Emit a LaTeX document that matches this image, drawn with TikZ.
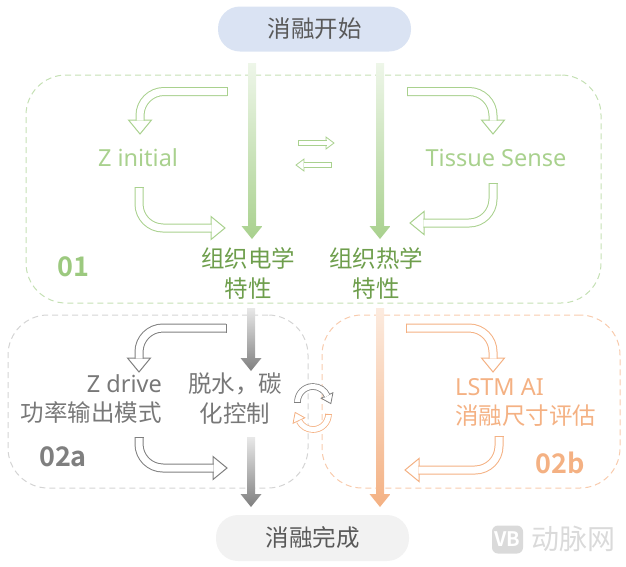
\documentclass[tikz,border=0pt]{standalone}
\usepackage{fontspec}
\setmainfont{Noto Sans}
\newfontfamily\cjk{Noto Sans CJK SC}
\newfontfamily\lblfont{Noto Sans CJK SC Bold}
\usetikzlibrary{calc}
\definecolor{grnL}{HTML}{A9D18E}
\definecolor{grnN}{HTML}{9CC97F}
\definecolor{grnD}{HTML}{6E9E4C}
\definecolor{grnDash}{HTML}{C5E0B4}
\definecolor{grnTop}{HTML}{EEF6E9}
\definecolor{gryA}{HTML}{7F7F7F}
\definecolor{gryT}{HTML}{787878}
\definecolor{gryDash}{HTML}{D4D4D4}
\definecolor{gryTop}{HTML}{E8E8E8}
\definecolor{orA}{HTML}{F4B183}
\definecolor{orDash}{HTML}{F8CBAD}
\definecolor{orTop}{HTML}{FCEBDF}
\definecolor{pillBlue}{HTML}{DAE3F3}
\definecolor{pillGray}{HTML}{F2F2F2}
\definecolor{pillText}{HTML}{595959}
\definecolor{wmk}{HTML}{DADADA}
\newcommand{\gradarrow}[4]{%
  \shade[top color=#3, bottom color=#4] let \p1=(#1), \p2=(#2) in
  (\x1-4pt,\y1) -- (\x1+4pt,\y1) -- (\x1+4pt,\y2+13pt) -- (\x1+10.5pt,\y2+13pt)
  -- (\x1,\y2) -- (\x1-10.5pt,\y2+13pt) -- (\x1-4pt,\y2+13pt) -- cycle;}
\newcommand{\hollowarr}[5]{%
  \pic[draw=#1, rotate=#5] at (#4) {bighead};
  \draw[#1, shaft] (#2) -- (#3) -- (#4);
  \draw[#1, line width=1pt] ($(#2)!4.5pt!90:(#3)$) -- ($(#2)!4.5pt!-90:(#3)$);}
\newcommand{\smallarr}[4]{%
  \pic[draw=#1, rotate=#4] at (#3) {smallhead};
  \draw[#1, line width=0.8pt, double=white, double distance=4.2pt, shorten >=-0.5pt] (#2) -- (#3);
  \draw[#1, line width=0.8pt] ($(#2)!2.9pt!90:(#3)$) -- ($(#2)!2.9pt!-90:(#3)$);}
\begin{document}
\begin{tikzpicture}[x=1pt,y=-1pt,
  region/.style={draw, line width=1pt, dash pattern=on 6pt off 4pt, rounded corners=40pt, inner sep=0pt},
  pill/.style={rounded corners=22pt, minimum width=193pt, inner sep=0pt, text=pillText, font=\cjk\fontsize{23.5}{28}\selectfont},
  txt/.style={inner sep=0pt, font=\fontsize{23.5}{29}\selectfont},
  ctxt/.style={inner sep=0pt, font=\cjk\fontsize{23.5}{30}\selectfont},
  lbl/.style={inner sep=0pt, font=\lblfont\fontsize{27}{27}\selectfont},
  shaft/.style={line width=1pt, double=white, double distance=7pt, rounded corners=24pt, shorten >=-0.6pt},
  bighead/.pic={\path[pic actions, line width=1pt, fill=white, line join=miter] (0,-11.5) -- (0,11.5) -- (14,0) -- cycle;},
  smallhead/.pic={\path[pic actions, line width=0.8pt, fill=white, line join=miter] (0,-6) -- (0,6) -- (8,0) -- cycle;},
  archead/.pic={\path[pic actions, line width=0.8pt, fill=white, line join=miter] (0,-6.5) -- (0,6.5) -- (9,0) -- cycle;},
]
\useasboundingbox (0,0) rectangle (626,566);

% regions
\node[region, draw=grnDash, minimum width=575pt, minimum height=228pt] (r01) at (313.5,189) {};
\node[region, draw=gryDash, minimum width=300pt, minimum height=173pt] (r2a) at (158,401.5) {};
\node[region, draw=orDash, minimum width=298pt, minimum height=173pt] (r2b) at (471,401.5) {};

% pills
\node[pill, fill=pillBlue, minimum height=45pt] (start) at (314.5,29) {消融开始};
\node[pill, fill=pillGray, minimum height=46pt] (finish) at (312.5,538) {消融完成};

% gradient arrows
\coordinate (gA0) at (252,63);  \coordinate (gA1) at (252,239);
\coordinate (gB0) at (380,63);  \coordinate (gB1) at (380,239);
\coordinate (kA0) at (251,308); \coordinate (kA1) at (251,371);
\coordinate (kB0) at (251,437); \coordinate (kB1) at (251,507);
\coordinate (oA0) at (380,308); \coordinate (oA1) at (380,507);
\gradarrow{gA0}{gA1}{grnTop}{grnL}
\gradarrow{gB0}{gB1}{grnTop}{grnL}
\gradarrow{kA0}{kA1}{gryTop}{gryA}
\gradarrow{kB0}{kB1}{gryTop}{gryA}
\gradarrow{oA0}{oA1}{orTop}{orA}

% texts
\node[txt, text=grnL] (zinit) at (138,158) {Z initial};
\node[txt, text=grnL] (tissue) at (496,158) {Tissue Sense};
\node[ctxt, text=grnD, align=center] (elec) at (248,273) {组织电学\\特性};
\node[ctxt, text=grnD, align=center] (therm) at (376,273) {组织热学\\特性};
\node[lbl, text=grnN] (l01) at (73,267) {01};
\node[txt, text=gryT, align=right, anchor=east] (zdrive) at (162,399) {Z drive\\{\cjk 功率输出模式}};
\node[ctxt, text=gryT, align=center] (dehyd) at (235,399) {脱水，碳\\化控制};
\node[lbl, text=gryA] (l02a) at (63,457) {02a};
\node[txt, text=orA, align=left, anchor=west] (lstm) at (455,402) {LSTM AI\\{\cjk 消融尺寸评估}};
\node[lbl, text=orA] (l02b) at (560,463) {02b};

% hollow curved arrows: green
\coordinate (a1) at (227,91.5); \coordinate (a2) at (140,91.5); \coordinate (a3) at (140,120);
\coordinate (b1) at (139,187);  \coordinate (b2) at (139,228);  \coordinate (b3) at (211,228);
\coordinate (c1) at (407,91.5); \coordinate (c2) at (493,91.5); \coordinate (c3) at (493,120);
\coordinate (d1) at (493,183);  \coordinate (d2) at (493,223);  \coordinate (d3) at (424,223);
\hollowarr{grnL}{a1}{a2}{a3}{-90}
\hollowarr{grnL}{b1}{b2}{b3}{0}
\hollowarr{grnL}{c1}{c2}{c3}{-90}
\hollowarr{grnL}{d1}{d2}{d3}{180}
% gray
\coordinate (e1) at (226,328); \coordinate (e2) at (139,328); \coordinate (e3) at (139,358);
\coordinate (f1) at (139,437); \coordinate (f2) at (139,468); \coordinate (f3) at (213,468);
\hollowarr{gryA}{e1}{e2}{e3}{-90}
\hollowarr{gryA}{f1}{f2}{f3}{0}
% orange
\coordinate (g1) at (406,328); \coordinate (g2) at (493,328); \coordinate (g3) at (493,358);
\coordinate (h1) at (499,436); \coordinate (h2) at (499,470); \coordinate (h3) at (419,470);
\hollowarr{orA}{g1}{g2}{g3}{-90}
\hollowarr{orA}{h1}{h2}{h3}{180}

% small exchange arrows
\coordinate (s1) at (298,143); \coordinate (s2) at (326,143);
\coordinate (t1) at (331,165); \coordinate (t2) at (304,165);
\smallarr{grnL}{s1}{s2}{0}
\smallarr{grnL}{t1}{t2}{180}

% cycle arcs
\coordinate (cg) at (313,402);
\coordinate (co) at (313,414);
\pic[draw=gryA, rotate=-65] at ($(cg)+(335:15.5)$) {archead};
\draw[gryA, line width=0.8pt, double=white, double distance=5pt] ($(cg)+(180:15.5)$) arc[start angle=180, end angle=337, radius=15.5];
\draw[gryA, line width=0.8pt] ($(cg)+(180:12.2)$) -- ($(cg)+(180:18.8)$);
\pic[draw=orA, rotate=115] at ($(co)+(155:15.5)$) {archead};
\draw[orA, line width=0.8pt, double=white, double distance=5pt] ($(co)+(0:15.5)$) arc[start angle=0, end angle=153, radius=15.5];
\draw[orA, line width=0.8pt] ($(co)+(0:12.2)$) -- ($(co)+(0:18.8)$);

% watermark
\node[fill=wmk, rounded corners=6pt, minimum width=31pt, minimum height=28pt, inner sep=0pt, text=white, font=\lblfont\fontsize{20}{20}\selectfont] (logo) at (507.5,539.5) {VB};
\node[inner sep=0pt, text=wmk, font=\cjk\fontsize{28}{28}\selectfont] (wm) at (573,539) {动脉网};
\end{tikzpicture}
\end{document}
